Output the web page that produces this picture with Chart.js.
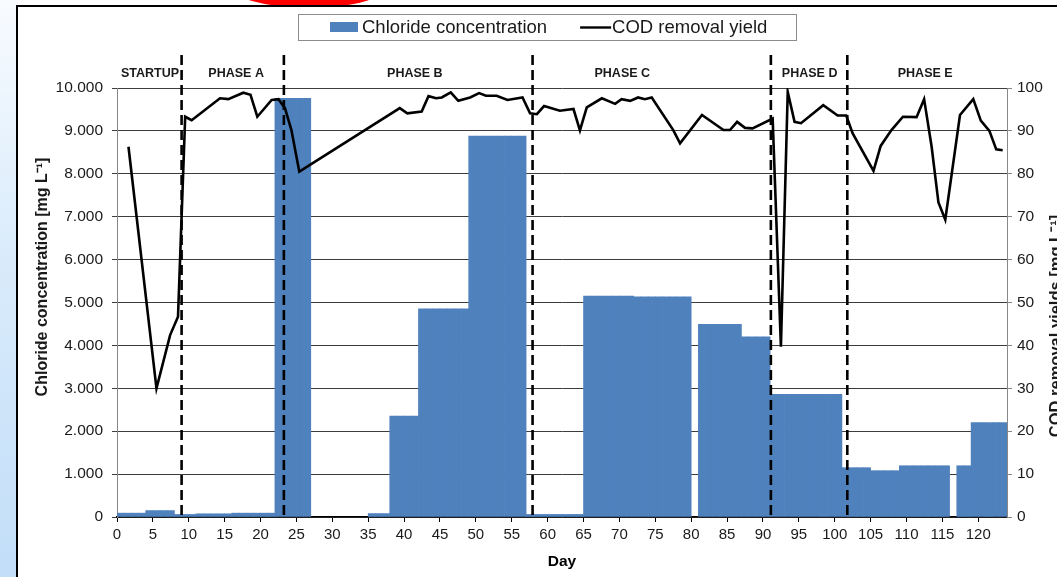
<!DOCTYPE html>
<html>
<head>
<meta charset="utf-8">
<script src="https://cdn.jsdelivr.net/npm/chart.js@4.4.0/dist/chart.umd.min.js"></script>
<style>
  html, body { margin: 0; padding: 0; width: 1057px; height: 577px; overflow: hidden; background: #fff; }
  .strip { position: absolute; left: 0; top: 0; width: 18px; height: 577px;
           background: linear-gradient(to bottom, #f8fbff 0%, #d9ebfb 45%, #c2def8 100%); }
  .blob { position: absolute; left: 226px; top: -44px; width: 166px; height: 52px; border-radius: 50%; background: #ff0000; }
  .frame { position: absolute; left: 16px; top: 5px; width: 1100px; height: 700px; border: 2px solid #000;
           background: #fff; box-sizing: border-box; }
  #chart { position: absolute; left: 0; top: 0; }
</style>
</head>
<body>
<div class="strip"></div>
<div class="blob"></div>
<div class="frame"></div>
<canvas id="chart" width="1057" height="577"></canvas>
<script>
// chloride steps: each bar covers the days [start, end)
const chlorideStart = [0, 4, 8, 11, 16, 22, 35, 38, 42, 49, 57, 65, 72, 81, 87, 91, 101, 105, 109, 117, 119];
const chlorideEnd   = [4, 8, 11, 16, 22, 27, 38, 42, 49, 57, 65, 72, 80, 87, 91, 101, 105, 109, 116, 119, 124];
const chlorideValue = [90, 150, 60, 75, 90, 9760, 80, 2350, 4850, 8880, 60, 5150, 5130, 4490, 4200, 2860, 1150, 1080, 1195, 1195, 2200];

// COD removal yield (%), right axis
const codDay = [1.6, 5.5, 7.4, 8.5, 9.5, 10.4, 14.35, 15.5, 17.6, 18.6, 19.55, 21.55, 22.5, 23.4, 24.3, 25.4,
  39.4, 40.45, 42.45, 43.4, 44.45, 45.25, 46.5, 47.55, 49.2, 50.45, 51.4, 52.9, 54.4, 56.5, 57.55, 58.5, 59.5,
  61.7, 63.6, 64.5, 65.45, 67.55, 69.4, 70.3, 71.5, 72.6, 73.55, 74.5, 77.5, 78.45, 81.5, 84.5, 85.4, 86.4,
  87.5, 88.55, 91.35, 92.5, 93.45, 94.4, 95.3, 98.4, 100.4, 101.6, 102.5, 105.4, 106.4, 107.9, 109.5, 111.4,
  112.45, 113.5, 114.45, 115.4, 117.45, 119.3, 120.35, 121.55, 122.5, 123.4];
const codYield = [86.3, 30.0, 42.4, 46.7, 93.3, 92.5, 97.6, 97.4, 98.9, 98.4, 93.3, 97.2, 97.4, 95.3, 90.2, 80.5,
  95.3, 94.1, 94.5, 98.1, 97.6, 97.8, 99.0, 97.0, 97.8, 98.8, 98.2, 98.2, 97.2, 97.8, 94.1, 93.9, 95.8,
  94.7, 95.1, 90.1, 95.5, 97.6, 96.3, 97.4, 97.0, 97.8, 97.4, 97.8, 90.2, 87.1, 93.7, 90.2, 90.2, 92.1,
  90.7, 90.6, 92.9, 39.7, 99.1, 92.1, 91.8, 96.0, 93.6, 93.6, 89.4, 80.7, 86.5, 90.2, 93.3, 93.2,
  97.4, 86.3, 73.3, 69.3, 93.7, 97.4, 92.4, 90.0, 85.7, 85.5];

const phaseBounds = [9, 23.25, 57.9, 91.1, 101.75];
const phaseNames = ['STARTUP', 'PHASE A', 'PHASE B', 'PHASE C', 'PHASE D', 'PHASE E'];
const phaseLabelDay = [4.6, 16.6, 41.5, 70.4, 96.5, 112.6];

const barColor = '#4f81bd';
const textColor = '#1a1a1a';
const fontFamily = '"Liberation Sans", Arial, sans-serif';

// one bar per day, built from the steps
const chlorideData = [];
chlorideStart.forEach((s, i) => {
    for (let d = s; d < chlorideEnd[i]; d++) {
        chlorideData.push({x: d + 0.5, y: chlorideValue[i]});
    }
});
const codData = codDay.map((d, i) => ({x: d, y: codYield[i]}));

function dotThousands(v) {
    return String(v).replace(/\B(?=(\d{3})+(?!\d))/g, '.');
}

const overlay = {
    id: 'overlay',
    afterDatasetsDraw(chart) {
        const {ctx, chartArea} = chart;
        const x = chart.scales.x;
        ctx.save();
        ctx.strokeStyle = '#000';
        ctx.lineWidth = 2.6;
        ctx.setLineDash([10, 5]);
        phaseBounds.forEach(d => {
            const px = x.getPixelForValue(d);
            ctx.beginPath();
            ctx.moveTo(px, 55);
            ctx.lineTo(px, chartArea.bottom);
            ctx.stroke();
        });
        ctx.setLineDash([]);
        ctx.font = 'bold 12.5px ' + fontFamily;
        ctx.fillStyle = textColor;
        ctx.textAlign = 'center';
        ctx.textBaseline = 'alphabetic';
        phaseNames.forEach((n, i) => ctx.fillText(n, x.getPixelForValue(phaseLabelDay[i]), 77));
        ctx.restore();
    },
    afterDraw(chart) {
        const ctx = chart.ctx;
        const ds = chart.data.datasets;
        ctx.save();
        // legend
        ctx.strokeStyle = '#8c8c8c';
        ctx.lineWidth = 1;
        ctx.strokeRect(298.5, 14.5, 498, 26);
        ctx.font = '18.5px ' + fontFamily;
        ctx.textBaseline = 'alphabetic';
        ctx.textAlign = 'left';
        ctx.fillStyle = ds[0].backgroundColor;
        ctx.fillRect(330, 22, 28, 10);
        ctx.fillStyle = textColor;
        ctx.fillText(ds[0].label, 362, 33);
        const lineX = 362 + ctx.measureText(ds[0].label).width + 33;
        ctx.strokeStyle = ds[1].borderColor;
        ctx.lineWidth = 2.4;
        ctx.beginPath();
        ctx.moveTo(lineX, 27.5);
        ctx.lineTo(lineX + 31, 27.5);
        ctx.stroke();
        ctx.fillText(ds[1].label, lineX + 32, 33);

        // axis titles
        ctx.font = 'bold 16px ' + fontFamily;
        ctx.textAlign = 'center';
        ctx.translate(47, 277);
        ctx.rotate(-Math.PI / 2);
        ctx.fillText('Chloride concentration [mg L\u207B\u00B9]', 0, 0);
        ctx.setTransform(1, 0, 0, 1, 0, 0);
        ctx.font = 'bold 16.5px ' + fontFamily;
        ctx.translate(1061, 326);
        ctx.rotate(-Math.PI / 2);
        ctx.fillText('COD removal yields [mg L\u207B\u00B9]', 0, 0);
        ctx.restore();
    }
};

Chart.defaults.font.family = fontFamily;
Chart.defaults.color = textColor;

new Chart(document.getElementById('chart'), {
    type: 'bar',
    data: {
        datasets: [
            {
                type: 'bar',
                label: 'Chloride concentration',
                data: chlorideData,
                backgroundColor: barColor,
                borderWidth: 0,
                barPercentage: 1,
                categoryPercentage: 1,
                yAxisID: 'y',
                order: 2
            },
            {
                type: 'line',
                label: 'COD removal yield',
                data: codData,
                borderColor: '#000',
                borderWidth: 2.6,
                pointRadius: 0,
                tension: 0,
                yAxisID: 'y2',
                order: 1
            }
        ]
    },
    options: {
        responsive: false,
        animation: false,
        devicePixelRatio: 1,
        layout: {padding: {top: 88, left: 0, right: 0, bottom: 0}},
        plugins: {
            legend: {display: false},
            tooltip: {enabled: false}
        },
        scales: {
            x: {
                type: 'linear',
                min: 0,
                max: 124,
                offset: false,
                ticks: {stepSize: 5, includeBounds: false, padding: 4, maxRotation: 0, autoSkip: false, font: {size: 15}},
                grid: {drawOnChartArea: false, offset: false, tickLength: 5, color: '#000'},
                border: {color: '#000', width: 1.5},
                title: {display: true, text: 'Day', color: '#000', font: {size: 15.5, weight: 'bold'}, padding: {top: 0, bottom: 6}},
                afterFit: s => { s.height = 60; }
            },
            y: {
                position: 'left',
                min: 0,
                max: 10000,
                ticks: {stepSize: 1000, padding: 9, font: {size: 15.5}, callback: v => dotThousands(v)},
                grid: {color: '#3c3c3c', tickLength: 5},
                border: {color: '#888'},
                afterFit: s => { s.width = 117; }
            },
            y2: {
                position: 'right',
                min: 0,
                max: 100,
                ticks: {stepSize: 10, padding: 5, font: {size: 15.5}},
                grid: {drawOnChartArea: false, tickLength: 5, color: '#888'},
                border: {color: '#888'},
                afterFit: s => { s.width = 50; }
            }
        }
    },
    plugins: [overlay]
});
</script>
</body>
</html>
